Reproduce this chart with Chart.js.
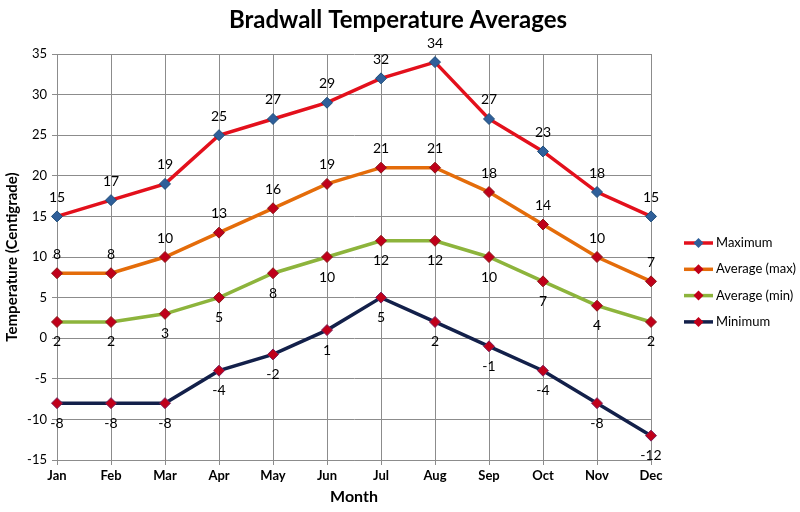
<!DOCTYPE html>
<html>
<head>
<meta charset="utf-8">
<script src="https://cdn.jsdelivr.net/npm/chart.js@4/dist/chart.umd.min.js"></script>
<style>
  html, body { margin: 0; padding: 0; background: #fff; }
  #wrap { width: 800px; height: 512px; }
</style>
</head>
<body>
<div id="wrap"><canvas id="c" width="800" height="512"></canvas></div>
<script>
// chart data
const months = ['Jan', 'Feb', 'Mar', 'Apr', 'May', 'Jun', 'Jul', 'Aug', 'Sep', 'Oct', 'Nov', 'Dec'];
const maximum = [15, 17, 19, 25, 27, 29, 32, 34, 27, 23, 18, 15];
const avgMax = [8, 8, 10, 13, 16, 19, 21, 21, 18, 14, 10, 7];
const avgMin = [2, 2, 3, 5, 8, 10, 12, 12, 10, 7, 4, 2];
const minimum = [-8, -8, -8, -4, -2, 1, 5, 2, -1, -4, -8, -12];
const seriesNames = ['Maximum', 'Average (max)', 'Average (min)', 'Minimum'];

const FONT = 'Lato, "Open Sans", sans-serif';

function makeSet(label, data, line, marker, markerBorder, labelPos) {
    return {
        label: label,
        data: data,
        borderColor: line,
        borderWidth: 3.5,
        pointStyle: 'rectRot',
        pointRadius: 5.5,
        pointBackgroundColor: marker,
        pointBorderColor: markerBorder,
        pointBorderWidth: 1,
        tension: 0,
        labelPos: labelPos
    };
}

// value labels above / below each point
const valueLabels = {
    id: 'valueLabels',
    afterDatasetsDraw(chart) {
        const ctx = chart.ctx;
        ctx.save();
        ctx.font = '14px ' + FONT;
        ctx.fillStyle = '#000';
        ctx.textAlign = 'center';
        ctx.textBaseline = 'middle';
        chart.data.datasets.forEach((ds, i) => {
            const meta = chart.getDatasetMeta(i);
            meta.data.forEach((pt, j) => {
                const dy = ds.labelPos === 'above' ? -19 : 20;
                ctx.fillText(String(ds.data[j]), pt.x, pt.y + dy);
            });
        });
        ctx.restore();
    }
};

// title + legend drawn by hand (line with diamond marker)
const extras = {
    id: 'extras',
    afterDraw(chart) {
        const ctx = chart.ctx;
        ctx.save();
        ctx.fillStyle = '#000';
        ctx.textAlign = 'center';
        ctx.textBaseline = 'middle';
        ctx.font = 'bold 24px ' + FONT;
        ctx.fillText('Bradwall Temperature Averages', 398, 20);

        ctx.font = '13px ' + FONT;
        ctx.textAlign = 'left';
        chart.data.datasets.forEach((ds, i) => {
            const y = 243 + i * 26.3;
            ctx.strokeStyle = ds.borderColor;
            ctx.lineWidth = 3.5;
            ctx.beginPath();
            ctx.moveTo(684, y);
            ctx.lineTo(713, y);
            ctx.stroke();
            ctx.fillStyle = ds.pointBackgroundColor;
            ctx.beginPath();
            ctx.moveTo(698.5, y - 5);
            ctx.lineTo(703.5, y);
            ctx.lineTo(698.5, y + 5);
            ctx.lineTo(693.5, y);
            ctx.closePath();
            ctx.fill();
            ctx.fillStyle = '#000';
            ctx.fillText(ds.label, 716, y);
        });
        ctx.restore();
    }
};

new Chart(document.getElementById('c'), {
    type: 'line',
    data: {
        labels: months,
        datasets: [
            makeSet(seriesNames[0], maximum, '#E3101C', '#2F5F9A', '#1F4E79', 'above'),
            makeSet(seriesNames[1], avgMax, '#E46C0A', '#C0001A', '#8B1A1A', 'above'),
            makeSet(seriesNames[2], avgMin, '#8DB43C', '#C0001A', '#8B1A1A', 'below'),
            makeSet(seriesNames[3], minimum, '#13204A', '#C0001A', '#7A1F5A', 'below')
        ]
    },
    plugins: [valueLabels, extras],
    options: {
        responsive: false,
        animation: false,
        layout: { padding: { top: 54, right: 149, left: 0, bottom: 0 } },
        plugins: {
            legend: { display: false },
            tooltip: { enabled: false }
        },
        scales: {
            x: {
                offset: false,
                grid: { color: '#8c8c8c', lineWidth: 1, tickLength: 5 },
                border: { color: '#8c8c8c' },
                ticks: { color: '#000', font: { family: FONT, size: 13, weight: 'bold' }, padding: 3, maxRotation: 0 },
                title: { display: true, text: 'Month', color: '#000', font: { family: FONT, size: 16, weight: 'bold' }, padding: { top: 0, bottom: 6 } },
                afterFit(scale) { scale.height = 52; }
            },
            y: {
                min: -15,
                max: 35,
                ticks: { stepSize: 5, color: '#000', font: { family: FONT, size: 13 }, padding: 5 },
                grid: { color: '#8c8c8c', lineWidth: 1, tickLength: 5 },
                border: { color: '#8c8c8c' },
                title: { display: true, text: 'Temperature (Centigrade)', color: '#000', font: { family: FONT, size: 15, weight: 'bold' }, padding: { top: 3, bottom: 0 } },
                afterFit(scale) { scale.width = 57; }
            }
        }
    }
});
</script>
</body>
</html>
